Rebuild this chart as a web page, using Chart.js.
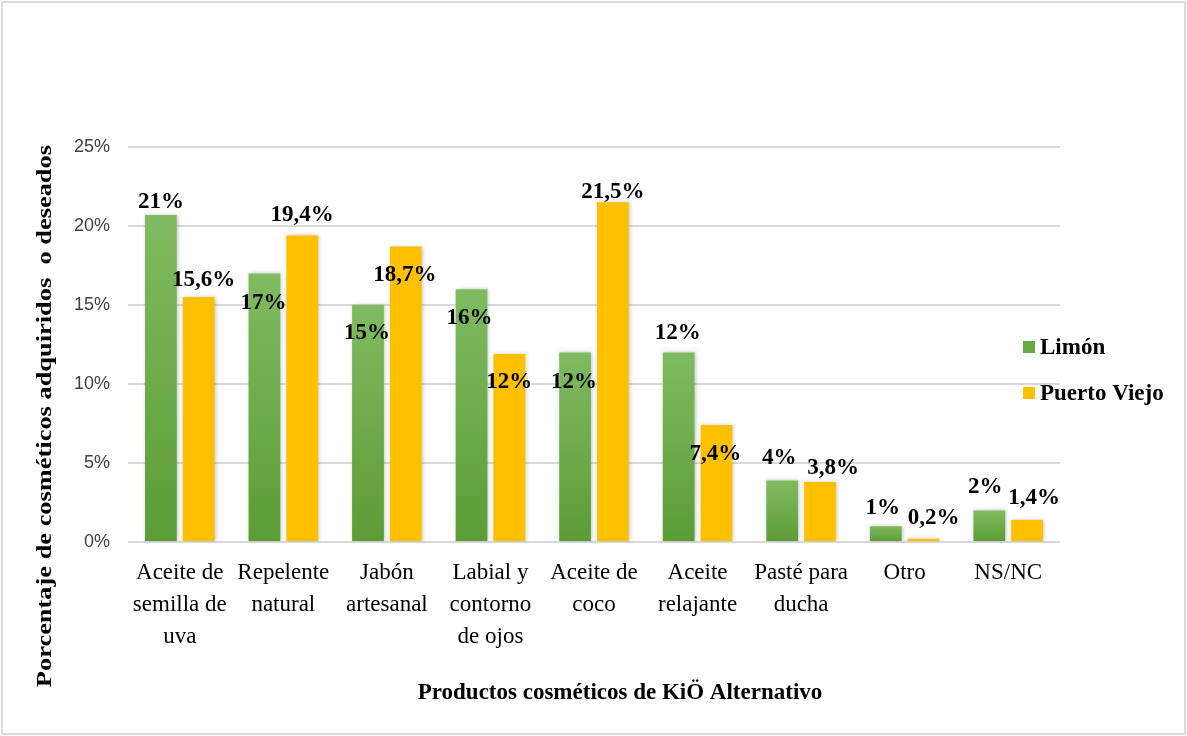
<!DOCTYPE html>
<html>
<head>
<meta charset="utf-8">
<script src="https://cdn.jsdelivr.net/npm/chart.js@4.4.0/dist/chart.umd.min.js"></script>
<style>
  html, body { margin: 0; padding: 0; background: #fff; }
  #wrap { position: relative; width: 1187px; height: 736px; }
  #frame { position: absolute; left: 1px; top: 1px; width: 1185px; height: 734px;
           box-sizing: border-box; border: 2px solid #dadada; pointer-events: none; }
</style>
</head>
<body>
<div id="wrap">
  <canvas id="chart" width="1187" height="736"></canvas>
  <div id="frame"></div>
</div>
<script>
// Data
const categories = [
    ['Aceite de', 'semilla de', 'uva'],
    ['Repelente', 'natural'],
    ['Jabón', 'artesanal'],
    ['Labial y', 'contorno', 'de ojos'],
    ['Aceite de', 'coco'],
    ['Aceite', 'relajante'],
    ['Pasté para', 'ducha'],
    ['Otro'],
    ['NS/NC']
];
const limon = [20.7, 17, 15, 16, 12, 12, 3.9, 1, 2];
const puertoViejo = [15.5, 19.4, 18.7, 11.9, 21.5, 7.4, 3.8, 0.2, 1.4];
const limonLabels = ['21%', '17%', '15%', '16%', '12%', '12%', '4%', '1%', '2%'];
const puertoViejoLabels = ['15,6%', '19,4%', '18,7%', '12%', '21,5%', '7,4%', '3,8%', '0,2%', '1,4%'];
const yTicks = [0, 5, 10, 15, 20, 25];

// label nudges [dx, dy] from the bar top, as placed in the original
const limonNudge = [[0, -13], [-1, 30], [-1, 28], [-2, 29], [-1, 30], [-1, -19], [-3, -22], [-3, -18], [-4, -23]];
const puertoViejoNudge = [[5, -17], [0, -20], [-1, 29], [0, 28], [0, -10], [-1, 29], [13, -14], [10, -21], [7, -22]];

const SERIF = "'Liberation Serif', 'Times New Roman', serif";
const SANS = "'Liberation Sans', Arial, sans-serif";
const GREEN = '#6aaa46';
const YELLOW = '#ffc000';

function greenGradient(context) {
    const chart = context.chart;
    const y = chart.scales.y;
    if (!y || context.raw === undefined) return GREEN;
    const top = y.getPixelForValue(context.raw);
    const bottom = y.getPixelForValue(0);
    if (!isFinite(top) || !isFinite(bottom) || top === bottom) return GREEN;
    const g = chart.ctx.createLinearGradient(0, top, 0, bottom);
    g.addColorStop(0, '#7fbb60');
    g.addColorStop(1, '#5c9c36');
    return g;
}

const barShadow = {
    id: 'barShadow',
    beforeDatasetsDraw(chart) {
        const ctx = chart.ctx;
        ctx.save();
        ctx.shadowColor = 'rgba(0, 0, 0, 0.22)';
        ctx.shadowBlur = 4;
        ctx.shadowOffsetX = 1;
        ctx.shadowOffsetY = 0;
    },
    afterDatasetsDraw(chart) {
        chart.ctx.restore();
    }
};

const dataLabels = {
    id: 'dataLabels',
    afterDatasetsDraw(chart) {
        const ctx = chart.ctx;
        const texts = [limonLabels, puertoViejoLabels];
        const nudges = [limonNudge, puertoViejoNudge];
        ctx.save();
        ctx.font = "bold 23px " + SERIF;
        ctx.fillStyle = '#000';
        ctx.textAlign = 'center';
        ctx.textBaseline = 'middle';
        chart.data.datasets.forEach((ds, di) => {
            const meta = chart.getDatasetMeta(di);
            meta.data.forEach((bar, i) => {
                const n = nudges[di][i];
                ctx.fillText(texts[di][i], bar.x + n[0], bar.y + n[1]);
            });
        });
        ctx.restore();
    }
};

const extras = {
    id: 'extras',
    afterDraw(chart) {
        const ctx = chart.ctx;
        const area = chart.chartArea;
        ctx.save();
        ctx.fillStyle = '#000';
        ctx.textBaseline = 'middle';

        // y axis title, stretched along its length like the original
        ctx.save();
        ctx.font = "bold 22px " + SERIF;
        ctx.translate(45, area.top - 2);
        ctx.rotate(-Math.PI / 2);
        ctx.scale(1.2, 1);
        ctx.textAlign = 'right';
        ctx.fillText('Porcentaje de cosméticos adquiridos  o deseados', 0, 0);
        ctx.restore();

        // x axis title
        ctx.font = "bold 23px " + SERIF;
        ctx.textAlign = 'center';
        ctx.fillText('Productos cosméticos de KiÖ Alternativo', area.left + 492, 693);

        // legend
        const items = [
            { label: chart.data.datasets[0].label, color: GREEN },
            { label: chart.data.datasets[1].label, color: YELLOW }
        ];
        items.forEach((it, i) => {
            const cy = 347 + i * 46;
            ctx.fillStyle = it.color;
            ctx.fillRect(area.right - 37, cy - 6, 12, 12);
            ctx.fillStyle = '#000';
            ctx.textAlign = 'left';
            ctx.fillText(it.label, area.right - 20, cy + 1);
        });
        ctx.restore();
    }
};

new Chart(document.getElementById('chart'), {
    type: 'bar',
    data: {
        labels: categories,
        datasets: [
            {
                label: 'Limón',
                data: limon,
                backgroundColor: greenGradient,
                categoryPercentage: 0.73,
                barPercentage: 0.84
            },
            {
                label: 'Puerto Viejo',
                data: puertoViejo,
                backgroundColor: YELLOW,
                categoryPercentage: 0.73,
                barPercentage: 0.84
            }
        ]
    },
    options: {
        responsive: false,
        devicePixelRatio: 1,
        animation: false,
        layout: {
            padding: { left: 0, top: 147, right: 127, bottom: 0 }
        },
        plugins: {
            legend: { display: false },
            tooltip: { enabled: false }
        },
        scales: {
            x: {
                grid: { display: false, drawTicks: false },
                border: { display: false },
                ticks: {
                    autoSkip: false,
                    maxRotation: 0,
                    padding: 15,
                    color: '#000',
                    font: { family: SERIF, size: 23, lineHeight: 1.3913 }
                },
                afterFit(scale) { scale.height = 194; }
            },
            y: {
                min: 0,
                max: 25,
                afterBuildTicks(scale) {
                    scale.ticks = yTicks.map(v => ({ value: v }));
                },
                grid: { color: '#d9d9d9', lineWidth: 2, drawTicks: false },
                border: { display: false },
                ticks: {
                    padding: 18,
                    color: '#404040',
                    font: { family: SANS, size: 18 },
                    callback: (value) => value + '%'
                },
                afterFit(scale) { scale.width = 128; }
            }
        }
    },
    plugins: [barShadow, dataLabels, extras]
});
</script>
</body>
</html>
